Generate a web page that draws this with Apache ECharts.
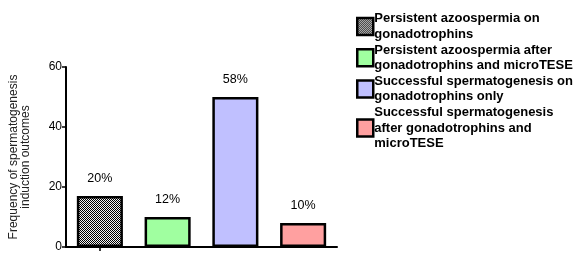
<!DOCTYPE html>
<html><head><meta charset="utf-8">
<script src="https://cdn.jsdelivr.net/npm/echarts@6/dist/echarts.min.js"></script>
<style>html,body{margin:0;padding:0;background:#fff}#c{width:586px;height:260px}</style>
</head><body><div id="c"></div>
<script>
const categories = ['Persistent azoospermia on\ngonadotrophins','Persistent azoospermia after\ngonadotrophins and microTESE','Successful spermatogenesis on\ngonadotrophins only','Successful spermatogenesis\nafter gonadotrophins and\nmicroTESE'];
const values = [17, 10, 50, 8];
const pctLabels = ['20%','12%','58%','10%'];
const yTicks = [0, 20, 40, 60];

const cv = document.createElement('canvas');
cv.width = 2; cv.height = 2;
const cx = cv.getContext('2d');
cx.fillStyle = '#f4f4f4'; cx.fillRect(0,0,2,2);
cx.fillStyle = '#000'; cx.fillRect(0,0,1,1); cx.fillRect(1,1,1,1);
const colors = [{image: cv, repeat: 'repeat'}, '#a0ffa0', '#c0c0ff', '#ffa0a0'];

const series = categories.map((name, i) => ({
  name: name,
  type: 'bar',
  stack: 's',
  barWidth: '68%',
  data: values.map((v, j) => j === i ? v : '-'),
  itemStyle: {color: colors[i], borderColor: '#000', borderWidth: 2.5},
  label: {show: true, position: 'top', distance: 11, formatter: () => pctLabels[i],
          fontFamily: 'Liberation Sans', fontSize: 12.5, color: '#000'}
}));

const chart = echarts.init(document.getElementById('c'), null, {renderer: 'canvas'});
chart.setOption({
  animation: false,
  grid: {left: 66, right: 249, top: 67, bottom: 13, containLabel: false},
  legend: {
    orient: 'vertical', left: 351, top: 6,
    itemWidth: 16, itemHeight: 17, itemGap: 0,
    icon: 'rect',
    itemStyle: {borderColor: '#000', borderWidth: 2.5},
    textStyle: {fontFamily: 'Liberation Sans', fontWeight: 'bold', fontSize: 13, color: '#000', lineHeight: 15.6, padding: [0,0,0,-4]},
    data: categories
  },
  xAxis: {
    type: 'category', data: categories,
    axisLine: {lineStyle: {color: '#000', width: 2}},
    axisTick: {show: true, alignWithLabel: true, length: 4, inside: false, lineStyle: {color: '#000', width: 1.5}},
    axisLabel: {show: false}
  },
  yAxis: {
    type: 'value', min: yTicks[0], max: yTicks[yTicks.length-1], interval: 20,
    name: 'Frequency of spermatogenesis\ninduction outcomes',
    nameLocation: 'middle', nameGap: 34, nameRotate: 90,
    nameTextStyle: {fontFamily: 'Liberation Sans', fontSize: 12, color: '#222', lineHeight: 12},
    axisLine: {show: true, lineStyle: {color: '#000', width: 2}},
    axisTick: {show: true, length: 4, lineStyle: {color: '#000', width: 1.5}},
    axisLabel: {fontFamily: 'Liberation Sans', fontSize: 12, color: '#000', margin: 4},
    splitLine: {show: false}
  },
  series: series
});
</script></body></html>
